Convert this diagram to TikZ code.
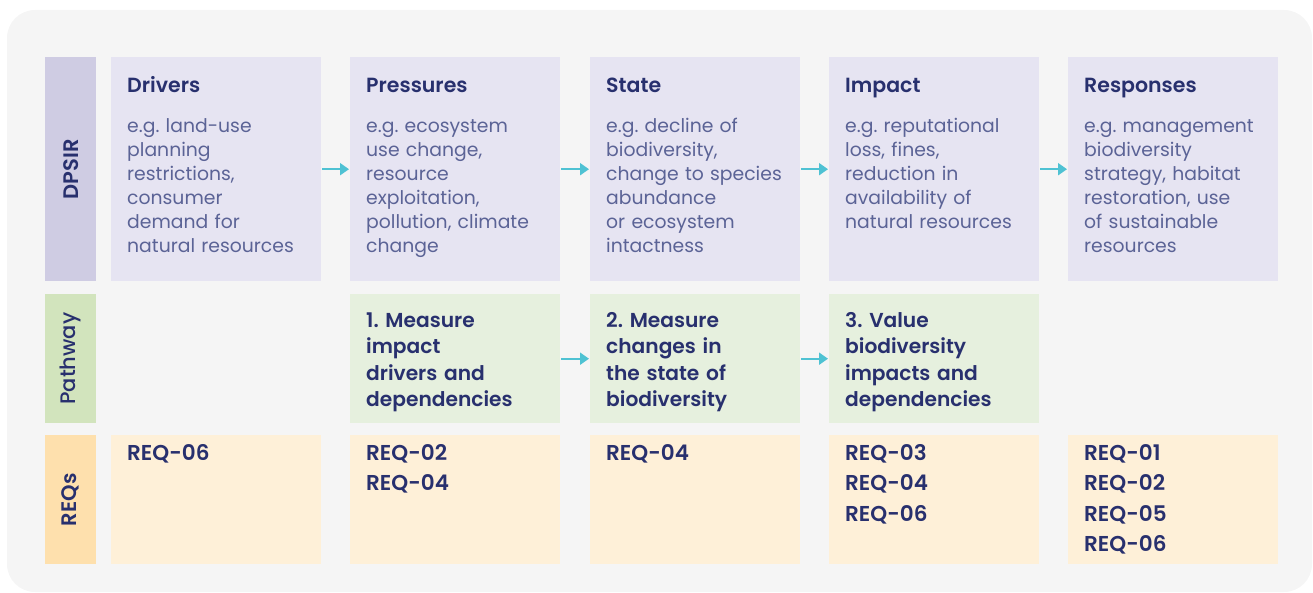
\documentclass[tikz,border=0pt]{standalone}
\usepackage{fontspec}
\setmainfont{Poppins}
\newfontfamily\semifont{Poppins SemiBold}
\newfontfamily\medfont{Poppins Medium}
\usetikzlibrary{positioning,arrows.meta}
\frenchspacing

\definecolor{navy}{HTML}{28306E}
\definecolor{bodyblue}{HTML}{5B6396}
\definecolor{panel}{HTML}{F5F5F5}
\definecolor{dpsirD}{HTML}{CFCCE3}
\definecolor{dpsirL}{HTML}{E6E4F2}
\definecolor{pathD}{HTML}{D2E4BD}
\definecolor{pathL}{HTML}{E6F0DE}
\definecolor{reqD}{HTML}{FEE0AD}
\definecolor{reqL}{HTML}{FEF0D8}
\definecolor{flow}{HTML}{4FC2D3}

\tikzset{
  cell/.style={anchor=north west,inner sep=0pt,minimum width=210pt},
  tall/.style={cell,minimum height=224pt},
  short/.style={cell,minimum height=129pt},
  tag/.style={anchor=north west,inner sep=0pt,minimum width=51pt},
  tagtext/.style={rotate=90,text=navy,font=\fontsize{21}{21}\selectfont\semifont},
  head/.style={anchor=base west,inner sep=0pt,text=navy,font=\fontsize{20.5}{24}\selectfont\semifont},
  body/.style={anchor=base west,inner sep=0pt,text width=205pt,align=left,text=bodyblue,font=\fontsize{18.8}{24}\selectfont},
  pathtext/.style={body,text=navy,font=\fontsize{20.2}{26.5}\selectfont\semifont},
  req/.style={body,text=navy,font=\fontsize{21.5}{30.5}\selectfont\semifont},
  flowarrow/.style={draw=flow,line width=2pt,-{Triangle[length=9pt,width=12pt]},shorten <=1pt,shorten >=1pt}
}

\begin{document}
\begin{tikzpicture}[x=1pt,y=-1pt]
  \useasboundingbox (0,0) rectangle (1313,593);
  \fill[panel,rounded corners=28pt] (7,10) rectangle (1312,592);

  % row labels
  \node[tag,fill=dpsirD,minimum height=224pt] (tagD) at (45,57) {};
  \node[tag,fill=pathD,minimum height=129pt] (tagP) at (45,294) {};
  \node[tag,fill=reqD,minimum height=129pt] (tagR) at (45,435) {};
  \node[tagtext] (tagDt) at (tagD.center) {DPSIR};
  \node[tagtext,font=\fontsize{21}{21}\selectfont\medfont] (tagPt) at (tagP.center) {Pathway};
  \node[tagtext] (tagRt) at (tagR.center) {REQs};

  % DPSIR row
  \node[tall,fill=dpsirL] (drv) at (111,57) {};
  \node[tall,fill=dpsirL] (prs) at (350,57) {};
  \node[tall,fill=dpsirL] (sta) at (590,57) {};
  \node[tall,fill=dpsirL] (imp) at (829,57) {};
  \node[tall,fill=dpsirL] (rsp) at (1068,57) {};

  \node[head] (drvT) at ([shift={(16,36)}]drv.north west) {Drivers};
  \node[head] (prsT) at ([shift={(16,36)}]prs.north west) {Pressures};
  \node[head] (staT) at ([shift={(16,36)}]sta.north west) {State};
  \node[head] (impT) at ([shift={(16,36)}]imp.north west) {Impact};
  \node[head] (rspT) at ([shift={(16,36)}]rsp.north west) {Responses};

  \node[body] (drvB) at ([shift={(16,76)}]drv.north west)
    {e.g. land-use\\planning\\restrictions,\\consumer\\demand for\\natural resources};
  \node[body] (prsB) at ([shift={(16,76)}]prs.north west)
    {e.g. ecosystem\\use change,\\resource\\exploitation,\\pollution, climate\\change};
  \node[body] (staB) at ([shift={(16,76)}]sta.north west)
    {e.g. decline of\\biodiversity,\\change to species\\abundance\\or ecosystem\\intactness};
  \node[body] (impB) at ([shift={(16,76)}]imp.north west)
    {e.g. reputational\\loss, fines,\\reduction in\\availability of\\natural resources};
  \node[body] (rspB) at ([shift={(16,76)}]rsp.north west)
    {e.g. management\\biodiversity\\strategy, habitat\\restoration, use\\of sustainable\\resources};

  \draw[flowarrow] (drv.east) -- (prs.west);
  \draw[flowarrow] (prs.east) -- (sta.west);
  \draw[flowarrow] (sta.east) -- (imp.west);
  \draw[flowarrow] (imp.east) -- (rsp.west);

  % pathway row
  \node[short,fill=pathL] (mea) at (350,294) {};
  \node[short,fill=pathL] (chg) at (590,294) {};
  \node[short,fill=pathL] (val) at (829,294) {};

  \node[pathtext] (meaT) at ([shift={(16,33)}]mea.north west)
    {1. Measure\\impact\\drivers and\\dependencies};
  \node[pathtext] (chgT) at ([shift={(16,33)}]chg.north west)
    {2. Measure\\changes in\\the state of\\biodiversity};
  \node[pathtext] (valT) at ([shift={(16,33)}]val.north west)
    {3. Value\\biodiversity\\impacts and\\dependencies};

  \draw[flowarrow] (mea.east) -- (chg.west);
  \draw[flowarrow] (chg.east) -- (val.west);

  % REQs row
  \node[short,fill=reqL] (rq1) at (111,435) {};
  \node[short,fill=reqL] (rq2) at (350,435) {};
  \node[short,fill=reqL] (rq3) at (590,435) {};
  \node[short,fill=reqL] (rq4) at (829,435) {};
  \node[short,fill=reqL] (rq5) at (1068,435) {};

  \node[req] (rq1T) at ([shift={(16,25)}]rq1.north west) {REQ-06};
  \node[req] (rq2T) at ([shift={(16,25)}]rq2.north west) {REQ-02\\REQ-04};
  \node[req] (rq3T) at ([shift={(16,25)}]rq3.north west) {REQ-04};
  \node[req] (rq4T) at ([shift={(16,25)}]rq4.north west) {REQ-03\\REQ-04\\REQ-06};
  \node[req] (rq5T) at ([shift={(16,25)}]rq5.north west) {REQ-01\\REQ-02\\REQ-05\\REQ-06};
\end{tikzpicture}
\end{document}
